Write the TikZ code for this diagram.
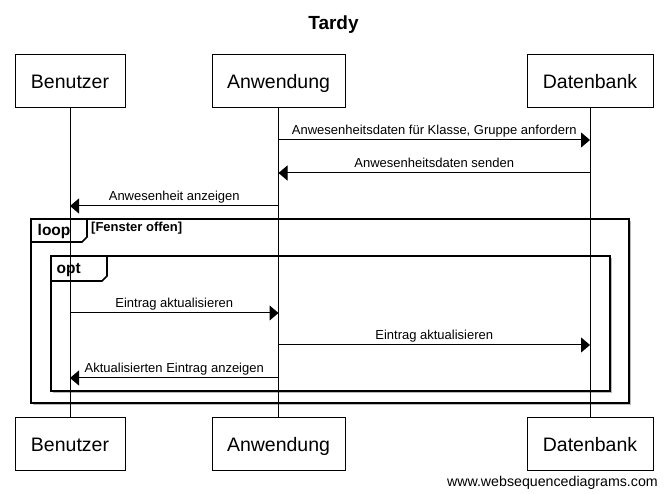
\documentclass[tikz,border=0pt]{standalone}
\usepackage{fontspec}
\setmainfont{Liberation Sans}
\usetikzlibrary{arrows.meta}
\begin{document}
\begin{tikzpicture}[x=1pt,y=-1pt,
  part/.style={draw,line width=1pt,minimum height=53pt,inner sep=0pt,text height=15pt,text depth=0pt,font=\fontsize{19.5}{23}\selectfont},
  msg/.style={line width=1pt,-{Triangle[length=9pt,width=15pt]}},
  lbl/.style={anchor=base,inner sep=0pt,font=\fontsize{13}{15}\selectfont},
  frame/.style={line width=1.6pt},
  shadow/.style={line width=1pt,gray!55},
  life/.style={line width=1pt},
  flabel/.style={anchor=base west,inner sep=0pt,font=\fontsize{15.5}{18}\bfseries\selectfont}]
\useasboundingbox (0,0) rectangle (667,494);
% title
\node[anchor=base,inner sep=0pt,font=\fontsize{19}{22}\bfseries\selectfont] (title) at (333.5,30) {Tardy};
% participants
\node[part,minimum width=110pt] (b1) at (70,81.5) {Benutzer};
\node[part,minimum width=133pt] (a1) at (278.5,81.5) {Anwendung};
\node[part,minimum width=126pt] (d1) at (590,81.5) {Datenbank};
\node[part,minimum width=110pt] (b2) at (70,443.5) {Benutzer};
\node[part,minimum width=133pt] (a2) at (278.5,443.5) {Anwendung};
\node[part,minimum width=126pt] (d2) at (590,443.5) {Datenbank};
% frames (shadow then frame)
\draw[shadow] (33,404.5) -- (630.5,404.5) -- (630.5,221);
\draw[shadow] (53,392.5) -- (611.5,392.5) -- (611.5,258);
\draw[frame] (31,219) rectangle (629,403);
\draw[frame] (31,219) -- (87,219) -- (87,237) -- (82,242) -- (31,242);
\node[flabel] (looplbl) at (37.5,236) {loop};
\node[anchor=base west,inner sep=0pt,font=\fontsize{13}{15}\bfseries\selectfont] (cond) at (91,232) {[Fenster offen]};
\draw[frame] (51,256) rectangle (610,391);
\draw[frame] (51,256) -- (107,256) -- (107,276) -- (102,281) -- (51,281);
\node[flabel] (optlbl) at (56.5,274) {opt};
% lifelines
\draw[life] (b1.south) -- (b2.north);
\draw[life] (a1.south) -- (a2.north);
\draw[life] (d1.south) -- (d2.north);
% message points
\coordinate (m1s) at (278.5,140); \coordinate (m1e) at (590,140);
\coordinate (m2s) at (590,173);   \coordinate (m2e) at (278.5,173);
\coordinate (m3s) at (278.5,206); \coordinate (m3e) at (70,206);
\coordinate (m4s) at (70,313);    \coordinate (m4e) at (278.5,313);
\coordinate (m5s) at (278.5,345); \coordinate (m5e) at (590,345);
\coordinate (m6s) at (278.5,378); \coordinate (m6e) at (70,378);
\draw[msg] (m1s) -- (m1e) node[lbl,midway,yshift=5pt] (l1) {Anwesenheitsdaten für Klasse, Gruppe anfordern};
\draw[msg] (m2s) -- (m2e) node[lbl,midway,yshift=5pt] (l2) {Anwesenheitsdaten senden};
\draw[msg] (m3s) -- (m3e) node[lbl,midway,yshift=5pt] (l3) {Anwesenheit anzeigen};
\draw[msg] (m4s) -- (m4e) node[lbl,midway,yshift=5pt] (l4) {Eintrag aktualisieren};
\draw[msg] (m5s) -- (m5e) node[lbl,midway,yshift=5pt] (l5) {Eintrag aktualisieren};
\draw[msg] (m6s) -- (m6e) node[lbl,midway,yshift=5pt] (l6) {Aktualisierten Eintrag anzeigen};
% footer
\node[anchor=base east,inner sep=0pt,font=\fontsize{14.2}{17}\selectfont] (footer) at (658,486) {www.websequencediagrams.com};
\end{tikzpicture}
\end{document}
